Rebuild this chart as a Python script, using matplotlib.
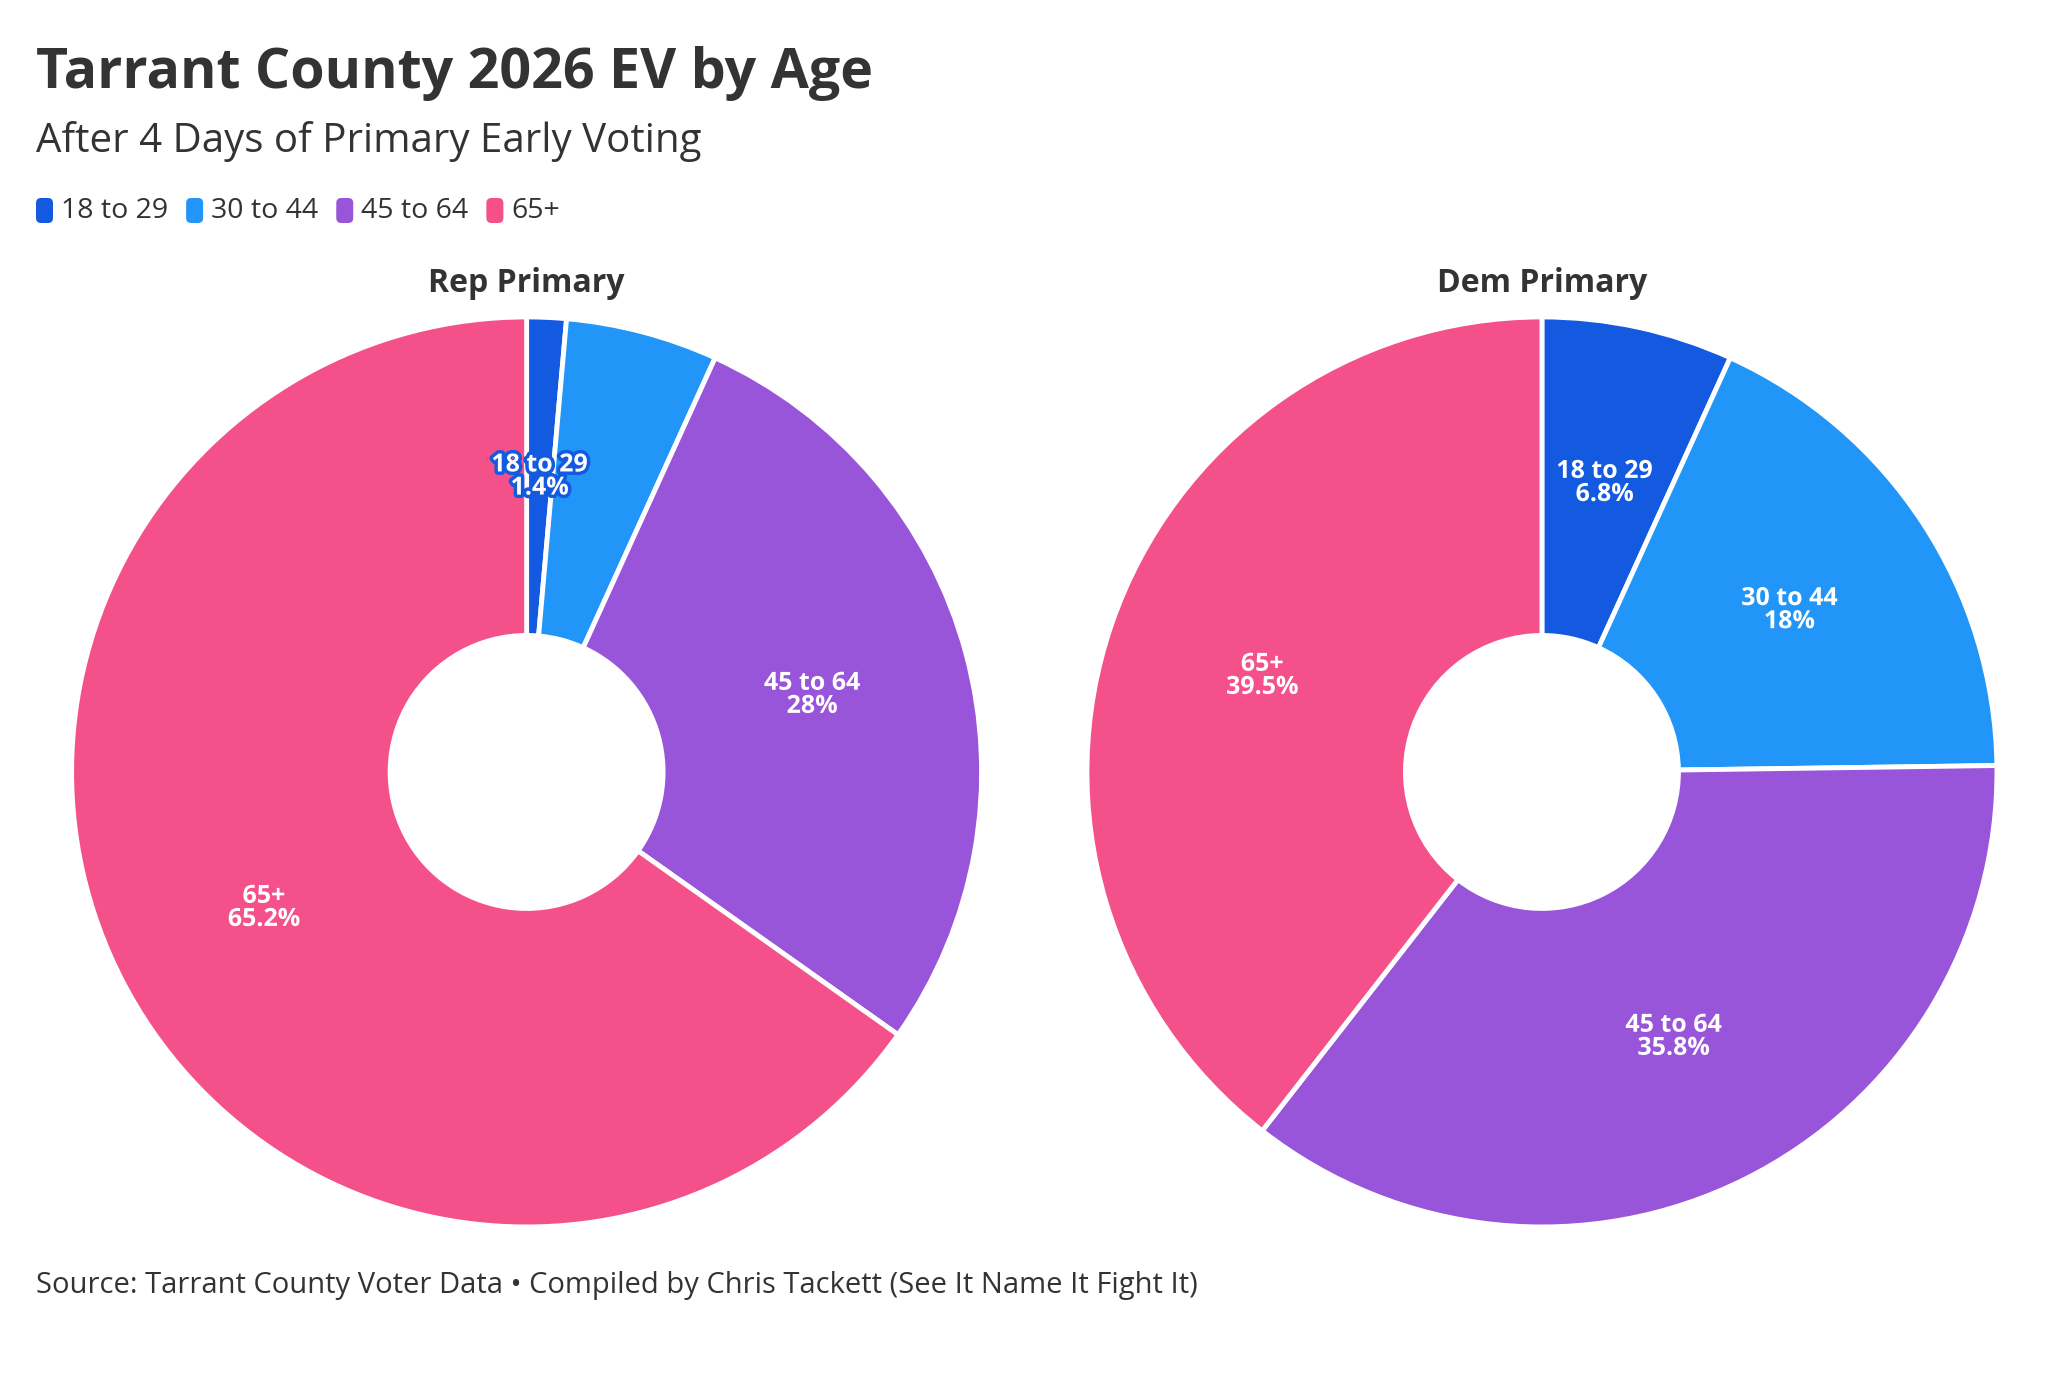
import matplotlib
matplotlib.use("Agg")
import numpy as np
import matplotlib.pyplot as plt
import matplotlib.patheffects as pe
from matplotlib.patches import FancyBboxPatch

# --------------------------
# DATA
# --------------------------
age_groups = ["18 to 29", "30 to 44", "45 to 64", "65+"]
rep_values = [1.4, 5.4, 28, 65.2]
dem_values = [6.8, 18, 35.8, 39.5]
panel_titles = ["Rep Primary", "Dem Primary"]
# the chart leaves the small 30 to 44 slice of the Rep pie unlabelled
rep_show_label = [True, False, True, True]
dem_show_label = [True, True, True, True]

colors = ["#145AE0", "#2196F8", "#9955D9", "#F4508A"]
text_color = "#333333"

plt.rcParams["font.family"] = ["Open Sans", "DejaVu Sans"]

fig = plt.figure(figsize=(20.7, 13.78), dpi=100)
fig.patch.set_facecolor("white")

# --------------------------
# HEADER
# --------------------------
fig.text(0.0174, 0.947, "Tarrant County 2026 EV by Age", fontsize=40,
         fontweight="bold", color=text_color, va="center")
fig.text(0.0174, 0.897, "After 4 Days of Primary Early Voting", fontsize=29,
         color=text_color, va="center")

# legend with rounded swatches
fig.canvas.draw()
renderer = fig.canvas.get_renderer()
x = 36
y_leg = 1378 - 211
for name, col in zip(age_groups, colors):
    sw = FancyBboxPatch((x, y_leg - 12), 17, 25,
                        boxstyle="round,pad=0,rounding_size=5",
                        transform=None, facecolor=col, edgecolor="none")
    fig.patches.append(sw)
    t = fig.text((x + 25) / 2070, y_leg / 1378, name, fontsize=20.5,
                 color=text_color, va="center")
    bb = t.get_window_extent(renderer)
    x = bb.x1 + 18

# --------------------------
# PIES
# --------------------------
def draw_pie(ax, values, show, title):
    wedges, _ = ax.pie(values, colors=colors, startangle=90, counterclock=False,
                       radius=1.0,
                       wedgeprops=dict(width=0.7, edgecolor="white", linewidth=3.5,
                                       joinstyle="round"))
    for w, v, name, col, s in zip(wedges, values, age_groups, colors, show):
        if not s:
            continue
        ang = np.deg2rad((w.theta1 + w.theta2) / 2)
        r = 0.65
        ax.text(r * np.cos(ang), r * np.sin(ang), f"{name}\n{v:g}%",
                ha="center", va="center", fontsize=18, fontweight="bold",
                color="white", linespacing=0.9,
                path_effects=[pe.withStroke(linewidth=5, foreground=col)])
    ax.set_xlim(-1.0, 1.0)
    ax.set_ylim(-1.0, 1.0)
    ax.set_aspect("equal")
    ax.set_title(title, fontsize=23, fontweight="bold", color=text_color, pad=18)
    ax.axis("off")

ax1 = fig.add_axes([0.0346, 0.1096, 0.4396, 0.6604])
ax2 = fig.add_axes([0.5251, 0.1096, 0.4396, 0.6604])
draw_pie(ax1, rep_values, rep_show_label, panel_titles[0])
draw_pie(ax2, dem_values, dem_show_label, panel_titles[1])

# --------------------------
# FOOTER
# --------------------------
fig.text(0.0174, 1 - 1285 / 1378,
         "Source: Tarrant County Voter Data \u2022 Compiled by Chris Tackett (See It Name It Fight It)",
         fontsize=21, color=text_color, va="center")

fig.savefig("out.png", dpi=100, facecolor="white")
